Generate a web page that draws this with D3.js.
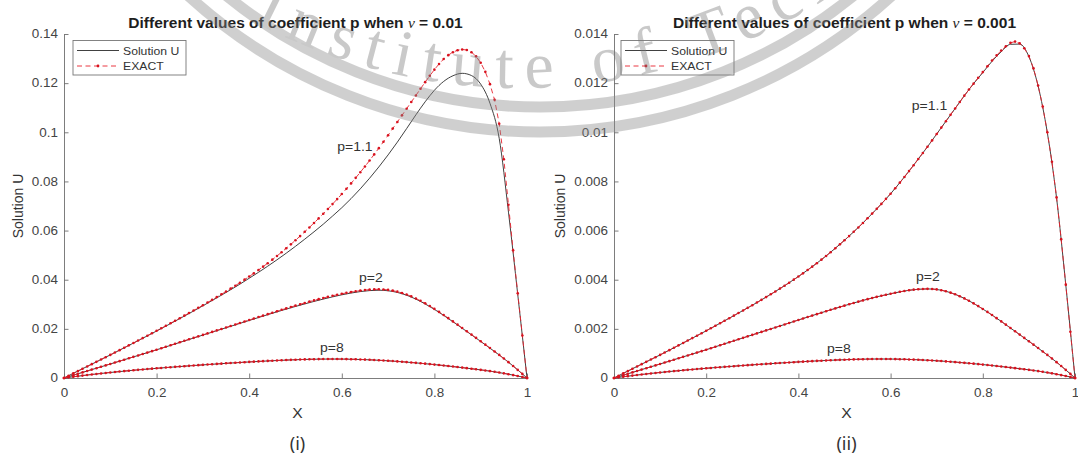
<!DOCTYPE html>
<meta charset="utf-8">
<style>
  body { margin: 0; background: #fff; }
  svg { display: block; font-family: "Liberation Sans", Arial, Helvetica, sans-serif; }
  text { white-space: pre; }
</style>
<body>
<script src="https://cdn.jsdelivr.net/npm/d3@7/dist/d3.min.js"></script>
<script>
  'use strict';

  // sample grids: EXACT every 0.01 (with markers), Solution U every 0.02
  const xFine = d3.range(101).map(i => i / 100);
  const xCoarse = d3.range(51).map(i => i / 50);

  const xTicks = [0, 0.2, 0.4, 0.6, 0.8, 1];
  const yTicksNu01 = [0, 0.02, 0.04, 0.06, 0.08, 0.1, 0.12, 0.14];
  const yTicksNu001 = [0, 0.002, 0.004, 0.006, 0.008, 0.01, 0.012, 0.014];
  const pLabels = ["p=1.1", "p=2", "p=8"];

  // nu = 0.01, values in units of 1e-3
  const exactNu01P11 = [0, 0.94, 1.88, 2.82, 3.76, 4.7, 5.64, 6.58, 7.52, 8.46, 9.4,
    10.36, 11.33, 12.3, 13.28, 14.26, 15.24, 16.23, 17.22, 18.21, 19.2,
    20.22, 21.24, 22.27, 23.3, 24.34, 25.38, 26.43, 27.49, 28.55, 29.62,
    30.71, 31.81, 32.93, 34.06, 35.21, 36.38, 37.57, 38.79, 40.03, 41.3,
    42.6, 43.94, 45.31, 46.72, 48.17, 49.66, 51.2, 52.78, 54.4, 56.06,
    57.76, 59.5, 61.28, 63.1, 64.96, 66.86, 68.8, 70.78, 72.8, 74.86,
    77.0, 79.2, 81.45, 83.75, 86.1, 88.5, 91.0, 93.55, 96.15, 98.8,
    101.5, 104.2, 106.9, 109.6, 112.3, 115.0, 117.7, 120.4, 123.0, 125.5,
    127.8, 129.8, 131.4, 132.6, 133.4, 133.7, 133.5, 132.6, 130.9, 128.3,
    124.6, 119.6, 113.2, 103.5, 89.0, 70.5, 52.0, 34.5, 17.3, 0];
  const exactNu01P2 = [0, 0.57, 1.14, 1.71, 2.28, 2.85, 3.42, 3.99, 4.56, 5.13, 5.7,
    6.28, 6.86, 7.44, 8.02, 8.6, 9.18, 9.76, 10.34, 10.92, 11.5,
    12.1, 12.71, 13.32, 13.92, 14.53, 15.13, 15.74, 16.34, 16.95, 17.55,
    18.16, 18.76, 19.37, 19.97, 20.58, 21.18, 21.79, 22.39, 23.0, 23.6,
    24.2, 24.8, 25.4, 25.99, 26.58, 27.17, 27.75, 28.32, 28.89, 29.45,
    30.0, 30.54, 31.07, 31.58, 32.08, 32.56, 33.02, 33.46, 33.88, 34.28,
    34.65, 34.99, 35.3, 35.57, 35.79, 35.96, 36.07, 36.1, 36.04, 35.85,
    35.55, 35.15, 34.62, 33.98, 33.22, 32.36, 31.41, 30.38, 29.28, 28.12,
    26.9, 25.64, 24.35, 23.04, 21.71, 20.37, 19.02, 17.67, 16.31, 14.95,
    13.58, 12.2, 10.81, 9.4, 7.96, 6.46, 4.9, 3.3, 1.67, 0];
  const exactNu01P8 = [0, 0.26, 0.51, 0.75, 0.98, 1.21, 1.43, 1.65, 1.86, 2.06, 2.25,
    2.44, 2.62, 2.8, 2.98, 3.15, 3.32, 3.48, 3.64, 3.8, 3.95,
    4.1, 4.25, 4.39, 4.53, 4.68, 4.81, 4.95, 5.09, 5.22, 5.35,
    5.48, 5.61, 5.73, 5.85, 5.98, 6.09, 6.21, 6.33, 6.44, 6.55,
    6.66, 6.76, 6.86, 6.96, 7.05, 7.14, 7.22, 7.3, 7.38, 7.45,
    7.52, 7.57, 7.62, 7.66, 7.69, 7.71, 7.73, 7.73, 7.73, 7.71,
    7.69, 7.65, 7.61, 7.55, 7.49, 7.41, 7.33, 7.23, 7.13, 7.01,
    6.89, 6.76, 6.62, 6.47, 6.32, 6.16, 6.0, 5.83, 5.65, 5.46,
    5.27, 5.07, 4.87, 4.66, 4.45, 4.23, 4.01, 3.79, 3.55, 3.32,
    3.07, 2.8, 2.52, 2.21, 1.89, 1.55, 1.19, 0.81, 0.41, 0];
  const solUNu01P11 = [0, 1.88, 3.76, 5.64, 7.52, 9.4, 11.32, 13.25, 15.19, 17.15, 19.12,
    21.12, 23.15, 25.2, 27.28, 29.39, 31.53, 33.71, 35.93, 38.2, 40.6,
    43.0, 45.5, 48.1, 50.8, 53.6, 56.5, 59.5, 62.6, 65.9, 69.3,
    73.0, 77.0, 81.3, 85.9, 90.8, 96.0, 101.5, 107.1, 112.4, 117.1,
    120.7, 123.0, 124.0, 123.1, 119.6, 111.8, 97.5, 67.5, 34.0, 0];
  const solUNu01P2 = [0, 1.14, 2.28, 3.42, 4.56, 5.7, 6.85, 8.0, 9.16, 10.32, 11.47,
    12.67, 13.87, 15.07, 16.27, 17.47, 18.66, 19.85, 21.04, 22.23, 23.42,
    24.6, 25.77, 26.92, 28.04, 29.12, 30.16, 31.16, 32.12, 33.02, 33.86,
    34.58, 35.17, 35.57, 35.72, 35.5, 34.82, 33.68, 32.1, 30.15, 27.93,
    25.48, 22.9, 20.26, 17.58, 14.88, 12.14, 9.36, 6.44, 3.29, 0];
  const solUNu01P8 = [0, 0.5, 0.98, 1.43, 1.85, 2.24, 2.61, 2.97, 3.31, 3.63, 3.94,
    4.24, 4.52, 4.8, 5.07, 5.33, 5.59, 5.84, 6.08, 6.31, 6.53,
    6.74, 6.94, 7.12, 7.28, 7.43, 7.55, 7.64, 7.69, 7.71, 7.69,
    7.63, 7.53, 7.39, 7.21, 6.99, 6.74, 6.46, 6.15, 5.81, 5.45,
    5.06, 4.65, 4.22, 3.78, 3.31, 2.79, 2.2, 1.54, 0.8, 0];

  // nu = 0.001, values in units of 1e-4
  const exactNu001P11 = [0, 0.94, 1.88, 2.82, 3.76, 4.7, 5.64, 6.58, 7.52, 8.46, 9.4,
    10.36, 11.33, 12.3, 13.28, 14.26, 15.24, 16.23, 17.22, 18.21, 19.2,
    20.22, 21.24, 22.27, 23.3, 24.34, 25.38, 26.43, 27.49, 28.55, 29.62,
    30.71, 31.81, 32.93, 34.06, 35.21, 36.38, 37.57, 38.79, 40.03, 41.3,
    42.6, 43.94, 45.31, 46.72, 48.17, 49.66, 51.2, 52.78, 54.4, 56.06,
    57.76, 59.5, 61.28, 63.1, 65.0, 66.9, 68.85, 70.85, 72.9, 75.0,
    77.2, 79.5, 81.8, 84.2, 86.6, 89.1, 91.6, 94.1, 96.7, 99.3,
    101.9, 104.5, 107.1, 109.7, 112.3, 114.9, 117.4, 119.8, 122.2, 124.5,
    126.9, 129.2, 131.3, 133.3, 135.0, 136.4, 136.9, 136.2, 134.2, 131.0,
    126.0, 119.0, 110.5, 100.0, 88.0, 73.5, 56.5, 38.0, 18.8, 0];
  const exactNu001P2 = [0, 0.57, 1.14, 1.71, 2.28, 2.85, 3.42, 3.99, 4.56, 5.13, 5.7,
    6.28, 6.86, 7.44, 8.02, 8.6, 9.18, 9.76, 10.34, 10.92, 11.5,
    12.1, 12.71, 13.32, 13.92, 14.53, 15.13, 15.74, 16.34, 16.95, 17.55,
    18.16, 18.76, 19.37, 19.97, 20.58, 21.18, 21.79, 22.39, 23.0, 23.6,
    24.2, 24.8, 25.4, 25.99, 26.58, 27.17, 27.75, 28.32, 28.89, 29.45,
    30.0, 30.54, 31.07, 31.58, 32.08, 32.56, 33.02, 33.46, 33.88, 34.28,
    34.7, 35.08, 35.42, 35.72, 35.96, 36.13, 36.24, 36.28, 36.22, 36.05,
    35.74, 35.3, 34.74, 34.06, 33.27, 32.39, 31.42, 30.38, 29.27, 28.1,
    26.9, 25.64, 24.35, 23.04, 21.71, 20.37, 19.02, 17.67, 16.31, 14.95,
    13.58, 12.2, 10.81, 9.4, 7.96, 6.46, 4.9, 3.3, 1.67, 0];
  const exactNu001P8 = [0, 0.26, 0.51, 0.75, 0.98, 1.21, 1.43, 1.65, 1.86, 2.06, 2.25,
    2.44, 2.62, 2.8, 2.98, 3.15, 3.32, 3.48, 3.64, 3.8, 3.95,
    4.1, 4.25, 4.39, 4.53, 4.68, 4.81, 4.95, 5.09, 5.22, 5.35,
    5.48, 5.61, 5.73, 5.85, 5.98, 6.09, 6.21, 6.33, 6.44, 6.55,
    6.66, 6.76, 6.86, 6.96, 7.05, 7.14, 7.22, 7.3, 7.38, 7.45,
    7.52, 7.57, 7.62, 7.66, 7.69, 7.71, 7.73, 7.73, 7.73, 7.71,
    7.69, 7.65, 7.61, 7.55, 7.49, 7.41, 7.33, 7.23, 7.13, 7.01,
    6.89, 6.76, 6.62, 6.47, 6.32, 6.16, 6.0, 5.83, 5.65, 5.46,
    5.27, 5.07, 4.87, 4.66, 4.45, 4.23, 4.01, 3.79, 3.55, 3.32,
    3.07, 2.8, 2.52, 2.21, 1.89, 1.55, 1.19, 0.81, 0.41, 0];
  const solUNu001P11 = [0, 1.88, 3.76, 5.64, 7.52, 9.4, 11.33, 13.28, 15.24, 17.22, 19.2,
    21.24, 23.3, 25.38, 27.49, 29.62, 31.81, 34.06, 36.38, 38.79, 41.3,
    43.94, 46.72, 49.66, 52.78, 56.06, 59.5, 63.1, 66.9, 70.85, 75.0,
    79.5, 84.2, 89.1, 94.1, 99.3, 104.5, 109.7, 114.9, 119.8, 124.3,
    128.9, 132.8, 135.8, 135.9, 130.8, 118.8, 99.8, 73.3, 37.9, 0];
  const solUNu001P2 = [0, 1.14, 2.28, 3.42, 4.56, 5.7, 6.86, 8.02, 9.18, 10.34, 11.5,
    12.71, 13.92, 15.13, 16.34, 17.55, 18.76, 19.97, 21.18, 22.39, 23.6,
    24.8, 25.99, 27.17, 28.32, 29.45, 30.54, 31.58, 32.56, 33.46, 34.28,
    35.05, 35.7, 36.1, 36.25, 36.03, 35.28, 34.04, 32.37, 30.36, 28.08,
    25.62, 23.02, 20.35, 17.65, 14.93, 12.18, 9.38, 6.45, 3.3, 0];
  const solUNu001P8 = [0, 0.51, 0.98, 1.43, 1.86, 2.25, 2.62, 2.98, 3.32, 3.64, 3.95,
    4.25, 4.53, 4.81, 5.09, 5.35, 5.61, 5.85, 6.09, 6.33, 6.55,
    6.76, 6.96, 7.14, 7.3, 7.45, 7.57, 7.66, 7.71, 7.73, 7.71,
    7.65, 7.55, 7.41, 7.23, 7.01, 6.76, 6.47, 6.16, 5.83, 5.46,
    5.07, 4.66, 4.23, 3.79, 3.32, 2.8, 2.21, 1.55, 0.81, 0];

  const panels = [
    {nu: "0.01", unit: 1e-3, yMax: 0.14, yTicks: yTicksNu01, left: 64, right: 527,
     exact: [exactNu01P11, exactNu01P2, exactNu01P8],
     solU: [solUNu01P11, solUNu01P2, solUNu01P8],
     labelAt: [[0.59, 0.0924], [0.637, 0.0391], [0.553, 0.0106]],
     yLabelX: 23, legendX: 73, caption: "(i)"},
    {nu: "0.001", unit: 1e-4, yMax: 0.014, yTicks: yTicksNu001, left: 614, right: 1075,
     exact: [exactNu001P11, exactNu001P2, exactNu001P8],
     solU: [solUNu001P11, solUNu001P2, solUNu001P8],
     labelAt: [[0.646, 0.0109], [0.655, 0.00395], [0.462, 0.00102]],
     yLabelX: 565, legendX: 621, caption: "(ii)"}
  ];

  const width = 1078, height = 458,
        plotTop = 34, plotBottom = 378,
        red = "#e8222e", dotRed = "#d8121e", ink = "#333",
        sx = 1.12;   // the picture is a bit wider than tall

  const svg = d3.select("body").append("svg")
        .attr("width", width)
        .attr("height", height);

  function stretched(parent, px, py, txt, size, anchor, k) {
    return parent.append("text")
      .attr("transform", `translate(${px},${py}) scale(${k},1)`)
      .attr("text-anchor", anchor)
      .attr("font-size", size)
      .attr("fill", ink)
      .text(txt);
  }

  panels.forEach(pn => {
    const x = d3.scaleLinear().domain([0, 1]).range([pn.left, pn.right]);
    const y = d3.scaleLinear().domain([0, pn.yMax]).range([plotBottom, plotTop]);
    const g = svg.append("g");
    const mid = (pn.left + pn.right) / 2;

    // axes, MATLAB style: ticks pointing in, no box
    const gx = g.append("g")
      .attr("transform", `translate(0,${plotBottom})`)
      .call(d3.axisBottom(x).tickValues(xTicks).tickSize(-4.5).tickSizeOuter(0)
        .tickPadding(10).tickFormat(d3.format("~g")));
    const gy = g.append("g")
      .attr("transform", `translate(${pn.left},0)`)
      .call(d3.axisLeft(y).tickValues(pn.yTicks).tickSize(-4.5).tickSizeOuter(0)
        .tickPadding(5.4).tickFormat(d3.format("~g")));
    [gx, gy].forEach(a => {
      a.attr("font-family", null).attr("font-size", null);
      a.selectAll("path, line").attr("stroke", "#6e6e6e").attr("stroke-width", 0.9);
      a.selectAll("text").attr("font-size", 12).attr("fill", "#444")
        .attr("transform", `scale(${sx},1)`);
    });

    // Solution U (black) under EXACT (red dashed with dots)
    pn.solU.forEach(vals => {
      g.append("path")
        .attr("fill", "none")
        .attr("stroke", "#2b2b2b")
        .attr("stroke-width", 0.9)
        .attr("d", d3.line().curve(d3.curveMonotoneX)
          .x((d, i) => x(xCoarse[i])).y(d => y(d * pn.unit))(vals));
    });
    pn.exact.forEach(vals => {
      g.append("path")
        .attr("fill", "none")
        .attr("stroke", red)
        .attr("stroke-width", 0.9)
        .attr("stroke-dasharray", "5,3.5")
        .attr("d", d3.line().x((d, i) => x(xFine[i])).y(d => y(d * pn.unit))(vals));
      g.append("g").selectAll("circle")
        .data(vals)
        .enter().append("circle")
        .attr("cx", (d, i) => x(xFine[i]))
        .attr("cy", d => y(d * pn.unit))
        .attr("r", 1.3)
        .attr("fill", dotRed);
    });

    // curve labels
    pLabels.forEach((t, i) => {
      stretched(g, x(pn.labelAt[i][0]), y(pn.labelAt[i][1]), t, 12.5, "start", sx);
    });

    // title with italic nu
    const title = g.append("text")
      .attr("transform", `translate(${mid},28) scale(1.11,1)`)
      .attr("text-anchor", "middle")
      .attr("font-size", 14)
      .attr("font-weight", "bold")
      .attr("fill", "#1e1e1e");
    title.append("tspan").text("Different values of coefficient p when ");
    title.append("tspan")
      .attr("font-family", "'Liberation Serif', serif")
      .attr("font-style", "italic")
      .attr("font-weight", "normal")
      .text("ν");
    title.append("tspan").text(" = " + pn.nu);

    // axis labels and caption
    stretched(g, mid + 2, 418, "X", 14, "middle", sx);
    g.append("text")
      .attr("transform", `translate(${pn.yLabelX},206) rotate(-90)`)
      .attr("text-anchor", "middle")
      .attr("font-size", 14)
      .attr("fill", ink)
      .text("Solution U");
    g.append("text")
      .attr("x", mid + 2)
      .attr("y", 450)
      .attr("text-anchor", "middle")
      .attr("font-family", "'Noto Sans', 'Open Sans', sans-serif")
      .attr("font-size", 18)
      .attr("fill", ink)
      .text(pn.caption);

    // legend
    const lg = g.append("g").attr("transform", `translate(${pn.legendX},40.5)`);
    lg.append("rect")
      .attr("width", 113).attr("height", 34.5)
      .attr("fill", "#fff")
      .attr("stroke", "#777").attr("stroke-width", 0.9);
    lg.append("line").attr("x1", 4).attr("x2", 46).attr("y1", 10).attr("y2", 10)
      .attr("stroke", "#2b2b2b").attr("stroke-width", 0.9);
    lg.append("line").attr("x1", 4).attr("x2", 46).attr("y1", 25.5).attr("y2", 25.5)
      .attr("stroke", red).attr("stroke-width", 0.9).attr("stroke-dasharray", "5,3.5");
    lg.append("circle").attr("cx", 25).attr("cy", 25.5).attr("r", 1.4).attr("fill", dotRed);
    stretched(lg, 50, 14, "Solution U", 11.5, "start", 1.06);
    stretched(lg, 50, 29.5, "EXACT", 11.5, "start", 1.06);
  });

  // faint institute watermark that lies over the figure
  const wm = svg.append("g").attr("opacity", 0.4).attr("pointer-events", "none");
  [522, 497].forEach(r => {
    wm.append("circle")
      .attr("cx", 540).attr("cy", -390).attr("r", r)
      .attr("fill", "none")
      .attr("stroke", "#8a8a8a")
      .attr("stroke-width", 11);
  });
  const cx = 520, cy = -480, rt = 568, a0 = 75 * Math.PI / 180;
  wm.append("path")
    .attr("id", "wmArc")
    .attr("fill", "none")
    .attr("d", `M${cx - rt * Math.sin(a0)},${cy + rt * Math.cos(a0)} A${rt},${rt} 0 0 0 ${cx + rt * Math.sin(a0)},${cy + rt * Math.cos(a0)}`);
  wm.append("text")
    .attr("font-family", "'Liberation Serif', serif")
    .attr("font-size", 66)
    .attr("letter-spacing", 12)
    .attr("fill", "#7a7a7a")
    .append("textPath")
    .attr("href", "#wmArc")
    .attr("startOffset", rt * a0 - 278)
    .text("Institute of Technology");
</script>
